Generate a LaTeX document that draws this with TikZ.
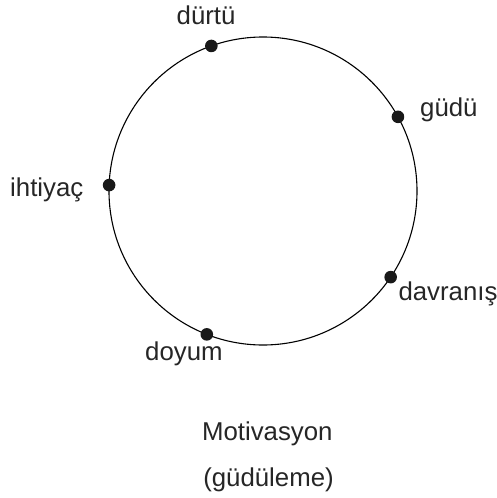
\documentclass[tikz,border=0pt]{standalone}
\usepackage{fontspec}
\setmainfont{Liberation Sans}
\usetikzlibrary{calc}
\begin{document}
\begin{tikzpicture}[x=1pt,y=-1pt,
  lbl/.style={inner sep=0pt,font=\fontsize{25.8}{30}\selectfont,text=black!85},
  pt/.style={circle,fill=black!90,inner sep=0pt,minimum size=12.6pt}]
\useasboundingbox (0,0) rectangle (496,498);
\coordinate (c) at (263,191);
\node[draw,circle,line width=1.1pt,minimum size=308pt,inner sep=0pt] (ring) at (c) {};
\node[pt] (p1) at ($(c)+(-109.6:154)$) {};
\node[pt] (p2) at ($(c)+(-28.8:154)$) {};
\node[pt] (p3) at ($(c)+(-177.8:154)$) {};
\node[pt] (p4) at ($(c)+(34:154)$) {};
\node[pt] (p5) at ($(c)+(111.4:154)$) {};
\node[lbl,anchor=base west] (l1) at (176.5,24) {dürtü};
\node[lbl,anchor=base west] (l2) at (420,116.7) {güdü};
\node[lbl,anchor=base west] (l3) at (10,196.7) {ihtiyaç};
\node[lbl,anchor=base west] (l4) at (398.3,300) {davranış};
\node[lbl,anchor=base west] (l5) at (145,360) {doyum};
\node[lbl,anchor=base] (l6) at (267.3,440) {Motivasyon};
\node[lbl,anchor=base] (l7) at (268.5,486) {(güdüleme)};
\end{tikzpicture}
\end{document}
